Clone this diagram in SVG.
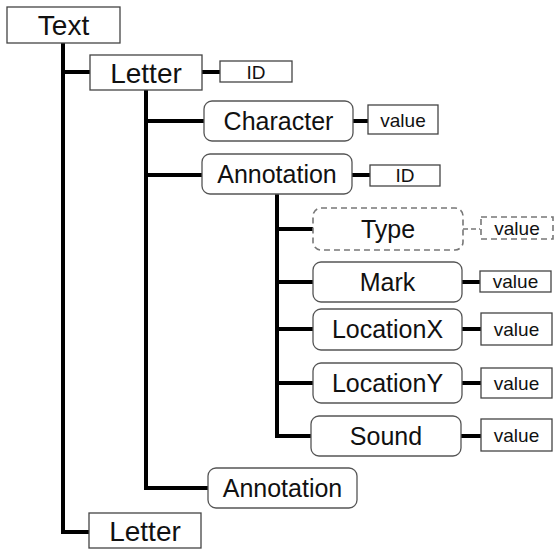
<svg xmlns="http://www.w3.org/2000/svg" width="554" height="550" viewBox="0 0 554 550">
<style>
.box{fill:#fff;stroke:#444;stroke-width:1.3}
.rbox{fill:#fff;stroke:#555;stroke-width:1.3}
.dbox{fill:#fff;stroke:#777;stroke-width:1.6;stroke-dasharray:6 4}
.ln{fill:none;stroke:#000;stroke-width:4}
.dln{fill:none;stroke:#777;stroke-width:1.5;stroke-dasharray:5 3}
text{font-family:"Liberation Sans",Arial,sans-serif;fill:#111;text-anchor:middle;dominant-baseline:central}
.t1{font-size:28px}
.t2{font-size:25px}
.t3{font-size:19px}
</style>
<rect width="554" height="550" fill="#fff"/>
<g id="connectors">
<path class="ln" d="M63 43V532H89M63 72H90"/>
<path class="ln" d="M146 90V488H208M146 121H204M146 175H202"/>
<path class="ln" d="M277 194V436H311M277 229H313M277 282H313M277 329H313M277 383H313"/>
<path class="ln" d="M202 72H220M353 121H368M352 175H370M462 282H480M462 329H481M462 383H481M461 436H481"/>
<path class="dln" d="M463 229H480"/>
</g>
<g id="text"><rect class="box" x="7" y="7" width="113" height="36"/><text class="t1" x="63.5" y="25">Text</text></g>
<g id="letter1"><rect class="box" x="90" y="55" width="112" height="35"/><text class="t1" x="146" y="73">Letter</text></g>
<g id="letter-id"><rect class="box" x="220" y="61" width="72" height="21"/><text class="t3" x="256" y="72">ID</text></g>
<g id="character"><rect class="rbox" x="204" y="101" width="149" height="40" rx="8"/><text class="t2" x="278.5" y="121">Character</text></g>
<g id="character-value"><rect class="box" x="368" y="105" width="70" height="29"/><text class="t3" x="403" y="120">value</text></g>
<g id="annotation1"><rect class="rbox" x="202" y="154" width="150" height="40" rx="8"/><text class="t2" x="277" y="174">Annotation</text></g>
<g id="annotation-id"><rect class="box" x="370" y="165" width="70" height="21"/><text class="t3" x="405" y="175.5">ID</text></g>
<g id="type"><rect class="dbox" x="313" y="208" width="150" height="42" rx="8"/><text class="t2" x="388" y="229">Type</text></g>
<g id="type-value"><rect class="dbox" x="481" y="217" width="72" height="22"/><text class="t3" x="517" y="228">value</text></g>
<g id="mark"><rect class="rbox" x="313" y="262" width="149" height="40" rx="8"/><text class="t2" x="387.5" y="282">Mark</text></g>
<g id="mark-value"><rect class="box" x="480" y="271" width="71" height="21"/><text class="t3" x="515.5" y="281.5">value</text></g>
<g id="locationx"><rect class="rbox" x="313" y="309" width="149" height="41" rx="8"/><text class="t2" x="387.5" y="329">LocationX</text></g>
<g id="locationx-value"><rect class="box" x="481" y="313" width="71" height="32"/><text class="t3" x="516.5" y="329">value</text></g>
<g id="locationy"><rect class="rbox" x="313" y="363" width="149" height="40" rx="8"/><text class="t2" x="387.5" y="383">LocationY</text></g>
<g id="locationy-value"><rect class="box" x="481" y="368" width="71" height="30"/><text class="t3" x="516.5" y="383">value</text></g>
<g id="sound"><rect class="rbox" x="311" y="416" width="150" height="40" rx="8"/><text class="t2" x="386" y="436">Sound</text></g>
<g id="sound-value"><rect class="box" x="481" y="419" width="71" height="32"/><text class="t3" x="516.5" y="435">value</text></g>
<g id="annotation2"><rect class="rbox" x="208" y="468" width="149" height="40" rx="8"/><text class="t2" x="282.5" y="488">Annotation</text></g>
<g id="letter2"><rect class="box" x="89" y="513" width="112" height="35"/><text class="t1" x="145" y="531">Letter</text></g>
</svg>
